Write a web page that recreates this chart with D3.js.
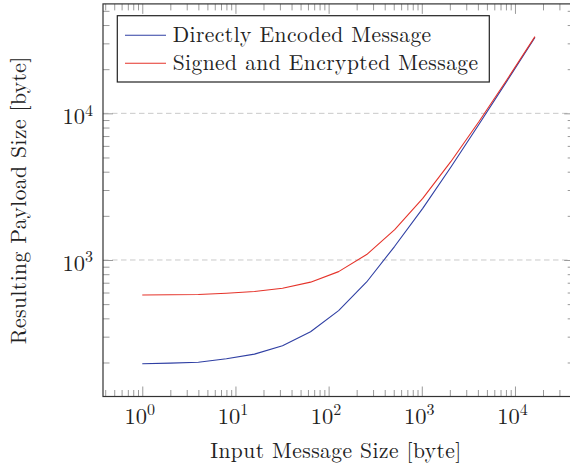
<!DOCTYPE html>
<html>
<head>
<meta charset="utf-8">
<script src="https://cdn.jsdelivr.net/npm/d3@7"></script>
<style>
  html, body { margin: 0; padding: 0; background: #fff; }
  svg { display: block; }
  text { font-family: "Latin Modern Roman", "CMU Serif", "Liberation Serif", serif; fill: #222; }
</style>
</head>
<body>
<svg id="chart" width="570" height="468"></svg>
<script>
// ---- data ----
const inputSizes = [1, 2, 4, 8, 16, 32, 64, 128, 256, 512, 1024, 2048, 4096, 8192, 16384];
const directlyEncoded = [196, 198, 201, 212, 228, 260, 324, 452, 708, 1240, 2250, 4290, 8390, 16580, 32960];
const signedEncrypted = [577, 579, 582, 593, 610, 642, 706, 833, 1089, 1610, 2630, 4680, 8770, 16960, 33350];
const seriesNames = ["Directly Encoded Message", "Signed and Encrypted Message"];
const seriesColors = ["#2f3fa3", "#e5332a"];
const xMajorTicks = [1, 10, 100, 1000, 10000];
const yMajorTicks = [1000, 10000];
const xTickLabels = ["0", "1", "2", "3", "4"];
const yTickLabels = ["3", "4"];
const xTitle = "Input Message Size [byte]";
const yTitle = "Resulting Payload Size [byte]";

// ---- layout ----
const L = 103, R = 574.2, T = 3.9, B = 396.5;
const svg = d3.select("#chart");

function enlarged(lo, hi, f) {
  const a = Math.log10(lo), b = Math.log10(hi), d = (b - a) * f;
  return [Math.pow(10, a - d), Math.pow(10, b + d)];
}
const x = d3.scaleLog().domain(enlarged(d3.min(inputSizes), d3.max(inputSizes), 0.1)).range([L, R]);
const allY = directlyEncoded.concat(signedEncrypted);
const y = d3.scaleLog().domain(enlarged(d3.min(allY), d3.max(allY), 0.1)).range([B, T]);

function minorTicks(scale) {
  const [a, b] = scale.domain();
  const out = [];
  for (let e = Math.floor(Math.log10(a)); e <= Math.ceil(Math.log10(b)); e++) {
    for (let m = 2; m <= 9; m++) {
      const v = m * Math.pow(10, e);
      if (v > a && v < b) out.push(v);
    }
  }
  return out;
}
const xMinor = minorTicks(x), yMinor = minorTicks(y);

// grid
svg.append("g").selectAll("line").data(yMajorTicks).join("line")
  .attr("x1", L).attr("x2", R)
  .attr("y1", d => y(d)).attr("y2", d => y(d))
  .attr("stroke", "#c9c9c9").attr("stroke-width", 1).attr("stroke-dasharray", "5.5,3.5");

// ticks via d3 axes (inward)
const tickColor = "#9a9a9a";
function drawAxis(axis, tx, ty) {
  const g = svg.append("g").attr("transform", `translate(${tx},${ty})`).call(axis);
  g.select(".domain").remove();
  g.selectAll("text").remove();
  g.selectAll("line").attr("stroke", tickColor).attr("stroke-width", 1);
}
drawAxis(d3.axisBottom(x).tickValues(xMajorTicks).tickSizeInner(-10).tickSizeOuter(0).tickFormat(""), 0, B);
drawAxis(d3.axisBottom(x).tickValues(xMinor).tickSizeInner(-6.5).tickSizeOuter(0).tickFormat(""), 0, B);
drawAxis(d3.axisTop(x).tickValues(xMajorTicks).tickSizeInner(-10).tickSizeOuter(0).tickFormat(""), 0, T);
drawAxis(d3.axisTop(x).tickValues(xMinor).tickSizeInner(-6.5).tickSizeOuter(0).tickFormat(""), 0, T);
drawAxis(d3.axisLeft(y).tickValues(yMajorTicks).tickSizeInner(-10).tickSizeOuter(0).tickFormat(""), L, 0);
drawAxis(d3.axisLeft(y).tickValues(yMinor).tickSizeInner(-6.5).tickSizeOuter(0).tickFormat(""), L, 0);
drawAxis(d3.axisRight(y).tickValues(yMajorTicks).tickSizeInner(-10).tickSizeOuter(0).tickFormat(""), R, 0);
drawAxis(d3.axisRight(y).tickValues(yMinor).tickSizeInner(-6.5).tickSizeOuter(0).tickFormat(""), R, 0);

// lines
const line = d3.line().x((d, i) => x(inputSizes[i])).y(d => y(d));
[directlyEncoded, signedEncrypted].forEach((s, k) => {
  svg.append("path").datum(s).attr("d", line)
    .attr("fill", "none").attr("stroke", seriesColors[k]).attr("stroke-width", 1.1)
    .attr("stroke-linejoin", "round");
});

// frame
svg.append("rect").attr("x", L).attr("y", T).attr("width", R - L).attr("height", B - T)
  .attr("fill", "none").attr("stroke", "#333").attr("stroke-width", 1.2);

// tick labels
const fs = 22.5;
xMajorTicks.forEach((v, i) => {
  const t = svg.append("text").attr("x", x(v) - 2.5).attr("y", 423.5).attr("text-anchor", "middle")
    .style("font-size", fs + "px");
  t.append("tspan").text("10");
  t.append("tspan").attr("dy", -8.5).style("font-size", "16px").text(xTickLabels[i]);
});
yMajorTicks.forEach((v, i) => {
  const t = svg.append("text").attr("x", 93).attr("y", y(v) + 11).attr("text-anchor", "end")
    .style("font-size", fs + "px");
  t.append("tspan").text("10");
  t.append("tspan").attr("dy", -8.5).style("font-size", "16px").text(yTickLabels[i]);
});

// axis titles
const titleStyle = sel => sel.style("font-size", "21.5px").style("letter-spacing", "0.45px");
svg.append("text").attr("x", (L + 569) / 2).attr("y", 458).attr("text-anchor", "middle")
  .call(titleStyle).text(xTitle);
svg.append("text").attr("transform", `translate(26,${(T + B) / 2}) rotate(-90)`)
  .attr("text-anchor", "middle").call(titleStyle).text(yTitle);

// legend
const lg = svg.append("g");
lg.append("rect").attr("x", 117.3).attr("y", 15.7).attr("width", 372).attr("height", 66.3)
  .attr("fill", "#fff").attr("stroke", "#222").attr("stroke-width", 1.2);
seriesNames.forEach((n, k) => {
  const cy = 35.3 + k * 28;
  lg.append("line").attr("x1", 125).attr("x2", 166).attr("y1", cy).attr("y2", cy)
    .attr("stroke", seriesColors[k]).attr("stroke-width", 1.1);
  lg.append("text").attr("x", 172.7).attr("y", cy + 6.5).call(titleStyle).text(n);
});
</script>
</body>
</html>
